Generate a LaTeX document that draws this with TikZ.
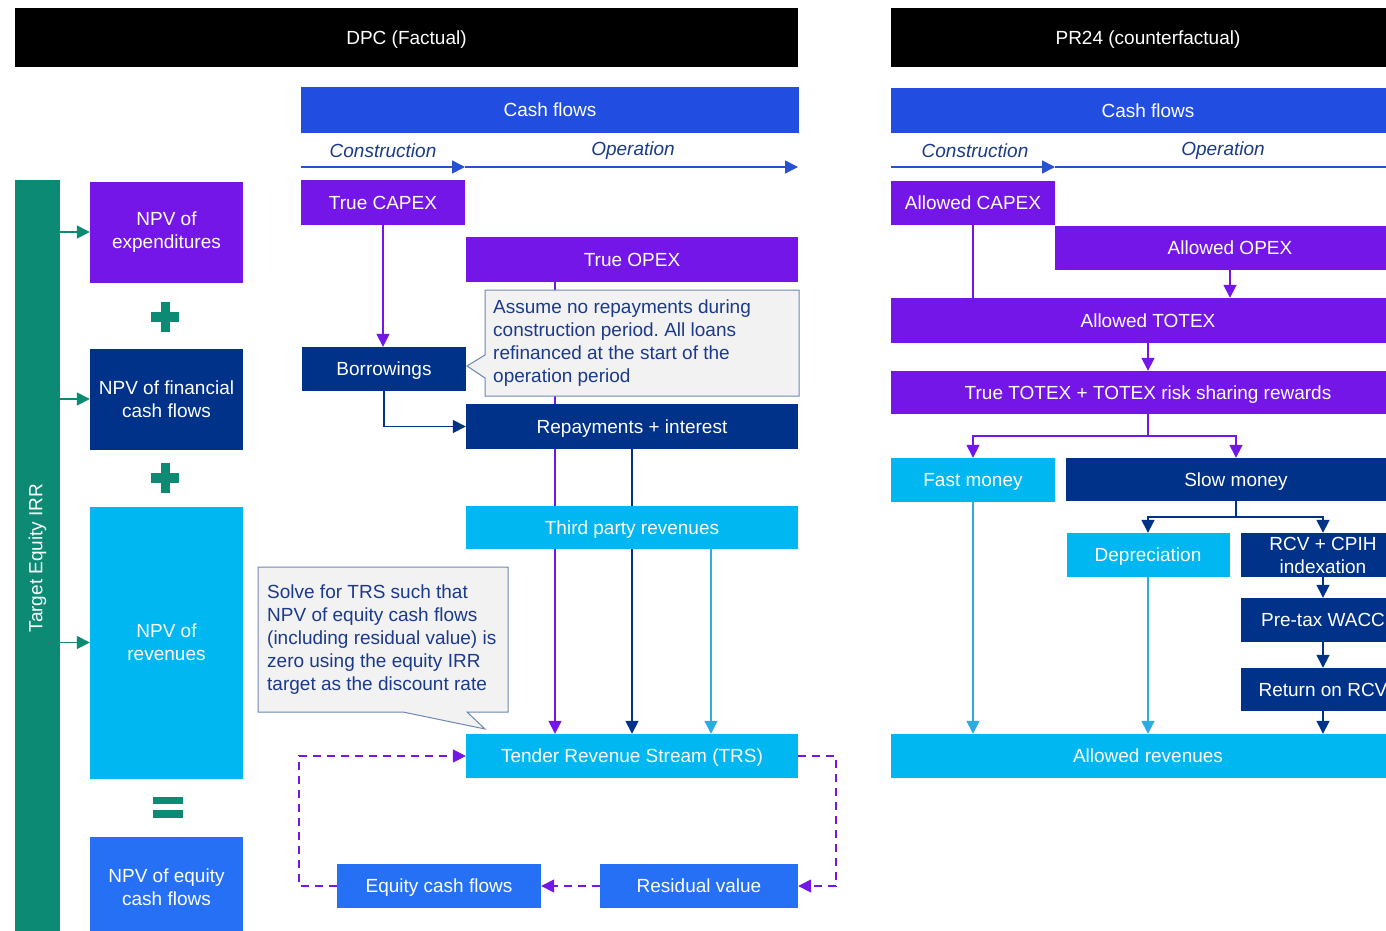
\documentclass[tikz,border=0pt]{standalone}
\usepackage{fontspec}
\setmainfont{Liberation Sans}
\usetikzlibrary{positioning,calc,arrows.meta,backgrounds}
\frenchspacing

\definecolor{cfblue}{RGB}{33,77,224}
\definecolor{dpcpurple}{RGB}{117,22,232}
\definecolor{dpcnavy}{RGB}{0,50,138}
\definecolor{dpccyan}{RGB}{0,183,241}
\definecolor{eqblue}{RGB}{38,112,246}
\definecolor{irrteal}{RGB}{12,138,116}
\definecolor{notegray}{RGB}{242,242,242}
\definecolor{noteline}{RGB}{110,135,180}
\definecolor{notetext}{RGB}{28,58,140}
\definecolor{axisblue}{RGB}{40,80,210}
\definecolor{linecyan}{RGB}{45,172,226}

\tikzset{
  box/.style={rectangle, inner sep=0pt, text=white, align=center, font=\fontsize{19}{23}\selectfont,
    text height=17.5pt, text depth=4pt},
  two/.style={text height={}, text depth={}},
  hdr/.style={box, fill=black},
  cfbox/.style={box, fill=cfblue},
  pbox/.style={box, fill=dpcpurple},
  nbox/.style={box, fill=dpcnavy},
  cbox/.style={box, fill=dpccyan},
  ebox/.style={box, fill=eqblue},
  phase/.style={inner sep=0pt, text=notetext, font=\fontsize{19}{22}\selectfont\itshape},
  note/.style={fill=notegray, draw=noteline, line width=1pt},
  notetxt/.style={inner sep=0pt, align=left, text=notetext, font=\fontsize{19}{23}\selectfont},
  flow/.style={line width=1.6pt, -{Triangle[length=13pt,width=13pt]}},
  link/.style={line width=1.6pt},
  axis/.style={draw=axisblue, line width=1.6pt, -{Triangle[length=13pt,width=13pt]}},
  loop/.style={draw=dpcpurple, line width=1.6pt, dash pattern=on 8pt off 6pt, -{Triangle[length=13pt,width=13pt]}}
}

\begin{document}
\begin{tikzpicture}[x=1pt,y=-1pt]
\useasboundingbox (0,0) rectangle (1386,931);

% headers
\node[hdr, minimum width=783, minimum height=59] (dpc) at (406.5,38) {DPC (Factual)};
\node[hdr, minimum width=514, minimum height=59] (pr) at (1148,38) {PR24 (counterfactual)};

% NPV column
\node[box, fill=irrteal, minimum width=45, minimum height=760] (irr) at (37.5,560) {};
\node[rotate=90, inner sep=0pt, text=white, font=\fontsize{19}{22}\selectfont] (irrtxt) at (37.5,558) {Target Equity IRR};
\node[pbox, two, minimum width=153, minimum height=101] (npvexp) at (166.5,232) {NPV of\\expenditures};
\node[nbox, two, minimum width=153, minimum height=101] (npvfin) at (166.5,399) {NPV of financial\\cash flows};
\node[cbox, two, minimum width=153, minimum height=272] (npvrev) at (166.5,642.5) {NPV of\\revenues};
\node[ebox, two, minimum width=153, minimum height=102] (npveq) at (166.5,887.5) {NPV of equity\\cash flows};
\foreach \py in {317,478}{
  \fill[irrteal] (151,\py-5) rectangle (179,\py+5);
  \fill[irrteal] (160.5,\py-15) rectangle (169.5,\py+15);
}
\fill[irrteal] (153,797) rectangle (183,804);
\fill[irrteal] (153,810) rectangle (183,818);
\foreach \n in {npvexp,npvfin,npvrev}
  \draw[flow, draw=irrteal] (irr.east |- \n.west) -- (\n.west);

% DPC cash flows
\node[cfbox, minimum width=498, minimum height=46] (cfl) at (550,110) {Cash flows};
\node[phase] (conl) at (383,151) {Construction};
\node[phase] (opl) at (633,151) {Operation};
\coordinate (axl0) at (301,167);
\coordinate (axl1) at (465,167);
\coordinate (axl2) at (798,167);
\draw[axis] (axl0) -- (axl1);
\draw[axis] (axl1) -- (axl2);
\node[pbox, minimum width=164, minimum height=45] (capext) at (383,202.5) {True CAPEX};
\node[pbox, minimum width=332, minimum height=45] (opext) at (632,259.5) {True OPEX};
\node[nbox, minimum width=164, minimum height=44] (borrow) at (384,369) {Borrowings};
\node[nbox, minimum width=332, minimum height=45] (repay) at (632,426.5) {Repayments + interest};
\node[cbox, minimum width=332, minimum height=43] (third) at (632,527.5) {Third party revenues};
\node[cbox, minimum width=332, minimum height=44] (trs) at (632,756) {Tender Revenue Stream (TRS)};
\node[ebox, minimum width=204, minimum height=44] (equity) at (439,886) {Equity cash flows};
\node[ebox, minimum width=198, minimum height=44] (resid) at (699,886) {Residual value};

\draw[note] (485,290) -- (799,290) -- (799,396) -- (485,396) -- (485,378) -- (467,366) -- (485,355) -- cycle;
\node[notetxt, anchor=west] (notea) at (493,343.5) {Assume no repayments during\\construction period. All loans\\refinanced at the start of the\\operation period};
\draw[note] (258,567) -- (508,567) -- (508,712) -- (467,712) -- (485,729) -- (403,712) -- (258,712) -- cycle;
\node[notetxt, anchor=west] (noteb) at (267,639.5) {Solve for TRS such that\\NPV of equity cash flows\\(including residual value) is\\zero using the equity IRR\\target as the discount rate};

% PR24 cash flows
\node[cfbox, minimum width=514, minimum height=45] (cfr) at (1148,110.5) {Cash flows};
\node[phase] (conr) at (975,151) {Construction};
\node[phase] (opr) at (1223,151) {Operation};
\coordinate (axr0) at (891,167);
\coordinate (axr1) at (1055,167);
\coordinate (axr2) at (1420,167);
\draw[axis] (axr0) -- (axr1);
\draw[axis] (axr1) -- (axr2);
\node[pbox, minimum width=164, minimum height=44] (capexa) at (973,203) {Allowed CAPEX};
\node[pbox, minimum width=350, minimum height=44] (opexa) at (1230,248) {Allowed OPEX};
\node[pbox, minimum width=514, minimum height=45] (totexa) at (1148,320.5) {Allowed TOTEX};
\node[pbox, minimum width=514, minimum height=43] (totext) at (1148,392.5) {True TOTEX + TOTEX risk sharing rewards};
\node[cbox, minimum width=164, minimum height=44] (fast) at (973,480) {Fast money};
\node[nbox, minimum width=340, minimum height=43] (slow) at (1236,479.5) {Slow money};
\node[cbox, minimum width=163, minimum height=44] (deprec) at (1148,555) {Depreciation};
\node[nbox, two, minimum width=164, minimum height=44] (rcv) at (1323,555) {RCV + CPIH\\indexation};
\node[nbox, minimum width=164, minimum height=44] (wacc) at (1323,620) {Pre-tax WACC};
\node[nbox, minimum width=164, minimum height=43] (ret) at (1323,689.5) {Return on RCV};
\node[cbox, minimum width=514, minimum height=44] (allowrev) at (1148,756) {Allowed revenues};

\begin{pgfonlayer}{background}
\fill[white] (0,0) rectangle (1386,931);
\draw[flow, draw=dpcpurple] (capext.south) -- (capext.south |- borrow.north);
\draw[flow, draw=dpcnavy] (borrow.south) |- (repay.west);
\draw[flow, draw=dpcpurple] ([xshift=-77]opext.south) -- ([xshift=-77]opext.south |- trs.north);
\draw[flow, draw=dpcnavy] (repay.south) -- (repay.south |- trs.north);
\draw[flow, draw=linecyan] ([xshift=79]third.south) -- ([xshift=79]third.south |- trs.north);
\draw[loop] (trs.east) -- ++(38,0) |- (resid.east);
\draw[loop] (resid.west) -- (equity.east);
\draw[loop] (equity.west) -- ++(-38,0) |- (trs.west);

\draw[link, draw=dpcpurple] (capexa.south) -- (capexa.south |- totexa.north);
\draw[flow, draw=dpcpurple] (opexa.south) -- (opexa.south |- totexa.north);
\draw[flow, draw=dpcpurple] (totexa.south) -- (totext.north);
\draw[flow, draw=dpcpurple] (totext.south) -- ++(0,22) -| (fast.north);
\draw[flow, draw=dpcpurple] (totext.south) -- ++(0,22) -| (slow.north);
\draw[flow, draw=dpcnavy] (slow.south) -- ++(0,16) -| (deprec.north);
\draw[flow, draw=dpcnavy] (slow.south) -- ++(0,16) -| (rcv.north);
\draw[flow, draw=dpcnavy] (rcv.south) -- (wacc.north);
\draw[flow, draw=dpcnavy] (wacc.south) -- (ret.north);
\draw[flow, draw=dpcnavy] (ret.south) -- (ret.south |- allowrev.north);
\draw[flow, draw=linecyan] (fast.south) -- (fast.south |- allowrev.north);
\draw[flow, draw=linecyan] (deprec.south) -- (deprec.south |- allowrev.north);
\end{pgfonlayer}
\end{tikzpicture}
\end{document}
